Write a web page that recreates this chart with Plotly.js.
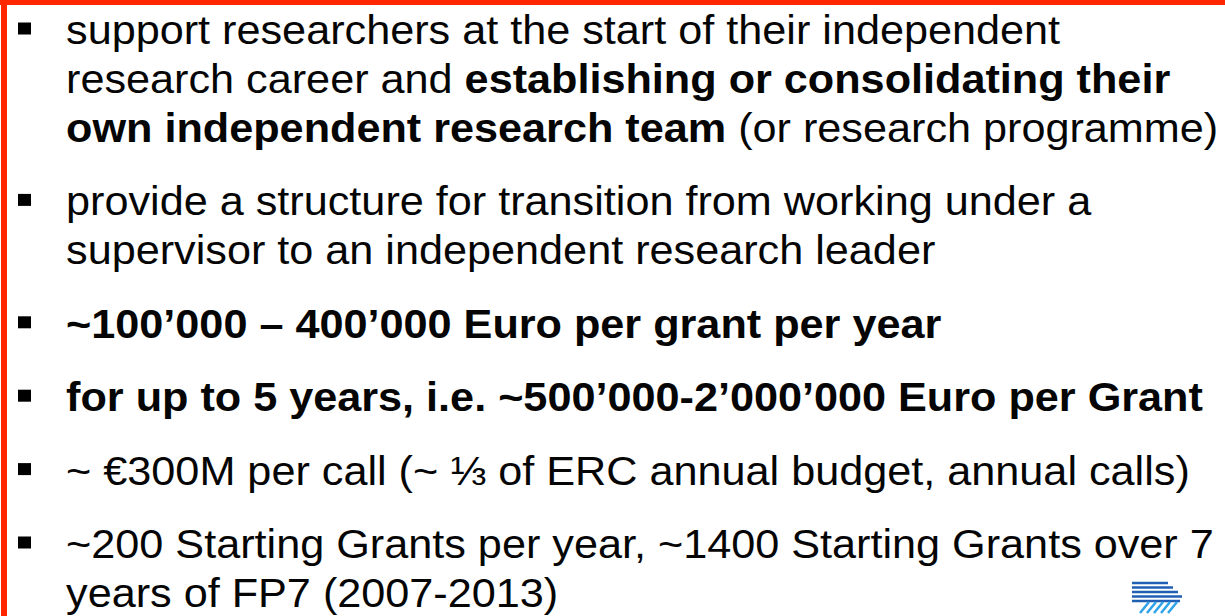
<!DOCTYPE html>
<html>
<head>
<meta charset="utf-8">
<script src="https://cdn.plot.ly/plotly-3.0.1.min.js"></script>
<style>html,body{margin:0;padding:0;background:#fff;}#chart{width:1225px;height:616px;}</style>
</head>
<body>
<div id="chart"></div>
<script>
// ---- content ----
const bullet1 = [
  "support researchers at the start of their independent",
  "research career and <b>establishing or consolidating their</b>",
  "<b>own independent research team</b> (or research programme)"
];
const bullet2 = [
  "provide a structure for transition from working under a",
  "supervisor to an independent research leader"
];
const bullet3 = ["<b>~100’000 – 400’000 Euro per grant per year</b>"];
const bullet4 = ["<b>for up to 5 years, i.e. ~500’000-2’000’000 Euro per Grant</b>"];
const bullet5 = ["~ €300M per call (~ ⅓ of ERC annual budget, annual calls)"];
const bullet6 = [
  "~200 Starting Grants per year, ~1400 Starting Grants over 7",
  "years of FP7 (2007-2013)"
];
const bullets = [bullet1, bullet2, bullet3, bullet4, bullet5, bullet6];

// ---- layout constants ----
const W = 1225, H = 616;
const FIRST_Y = 30, LINE_STEP = 49, BULLET_STEP = 73.4;
const TEXT_X = 66, BULLET_X = 18, BULLET_SIZE = 12;
const STRETCH = 1.08;
const FONT = {family: "Liberation Sans, Arial, sans-serif", size: 40, color: "#050505"};

const px = x => x / W;
const py = y => 1 - y / H;

const annotations = [];
const shapes = [];

let y = FIRST_Y;
bullets.forEach((lines, bi) => {
  if (bi > 0) y += BULLET_STEP;
  shapes.push({type: "rect", xref: "paper", yref: "paper",
    x0: px(BULLET_X), x1: px(BULLET_X + BULLET_SIZE + 1),
    y0: py(y - BULLET_SIZE / 2 - 1.5), y1: py(y + BULLET_SIZE / 2 - 1.5),
    fillcolor: "#000", line: {width: 0}});
  lines.forEach((t, li) => {
    if (li > 0) y += LINE_STEP;
    annotations.push({text: t, xref: "paper", yref: "paper", x: px(TEXT_X), y: py(y),
      xanchor: "left", yanchor: "middle", showarrow: false, font: FONT,
      borderpad: 0, borderwidth: 0});
  });
});

// red frame (top and left)
shapes.push({type: "rect", xref: "paper", yref: "paper", x0: 0, x1: 1, y0: py(5), y1: 1,
  fillcolor: "#ff2600", line: {width: 0}});
shapes.push({type: "rect", xref: "paper", yref: "paper", x0: px(1), x1: px(7), y0: 0, y1: 1,
  fillcolor: "#ff2600", line: {width: 0}});

// small logo (bottom right)
const stripeEnds = [1168, 1173, 1178, 1182, 1180];
[583, 587.5, 592, 596.5, 601].forEach((ly, i) => {
  shapes.push({type: "line", xref: "paper", yref: "paper",
    x0: px(1132), x1: px(stripeEnds[i]), y0: py(ly), y1: py(ly),
    line: {color: "#1f5fb4", width: 2.5}});
});
[0, 1, 2, 3, 4].forEach(i => {
  const x0 = 1140 + i * 7;
  shapes.push({type: "line", xref: "paper", yref: "paper",
    x0: px(x0), x1: px(x0 + 9), y0: py(613), y1: py(602),
    line: {color: "#2ea3ea", width: 2.5}});
});

const layout = {
  width: W, height: H,
  margin: {l: 0, r: 0, t: 0, b: 0},
  paper_bgcolor: "#ffffff", plot_bgcolor: "#ffffff",
  xaxis: {visible: false, range: [0, 1]},
  yaxis: {visible: false, range: [0, 1]},
  showlegend: false,
  annotations: annotations,
  shapes: shapes
};

Plotly.newPlot("chart", [], layout, {staticPlot: true, displayModeBar: false}).then(() => {
  // the slide's Arial is set slightly wide: stretch each line horizontally from its left edge
  document.querySelectorAll("#chart text.annotation-text").forEach(el => {
    const bx = el.getBBox().x;
    el.setAttribute("transform",
      "translate(" + bx + ",0) scale(" + STRETCH + ",1) translate(" + (-bx) + ",0)");
  });
});
</script>
</body>
</html>
